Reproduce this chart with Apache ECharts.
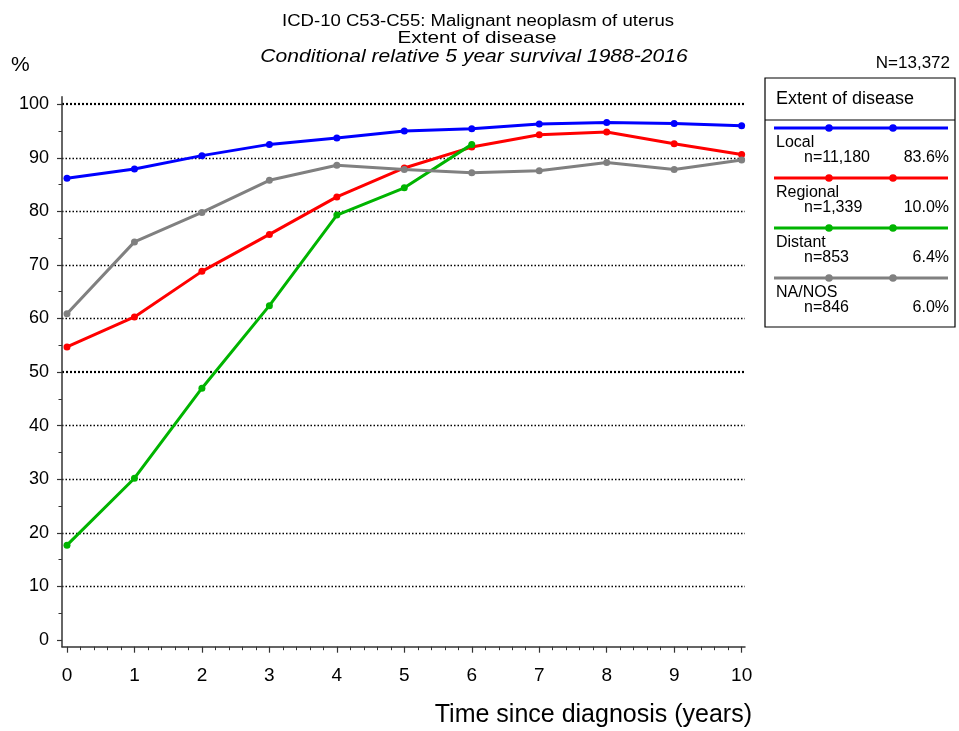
<!DOCTYPE html>
<html>
<head>
<meta charset="utf-8">
<script src="https://cdn.jsdelivr.net/npm/echarts@6/dist/echarts.min.js"></script>
<style>
html,body{margin:0;padding:0;background:#fff;}
#chart{width:959px;height:731px;}
</style>
</head>
<body>
<div id="chart"></div>
<script>
// ---- Data ----
const years = [0, 1, 2, 3, 4, 5, 6, 7, 8, 9, 10];
const seriesNames = ['Local', 'Regional', 'Distant', 'NA/NOS'];
const seriesCounts = ['n=11,180', 'n=1,339', 'n=853', 'n=846'];
const seriesPercents = ['83.6%', '10.0%', '6.4%', '6.0%'];
const localValues = [86.2, 87.9, 90.4, 92.5, 93.7, 95.0, 95.4, 96.3, 96.6, 96.4, 96.0];
const regionalValues = [54.7, 60.3, 68.8, 75.7, 82.7, 88.1, 92.0, 94.3, 94.8, 92.6, 90.6];
const distantValues = [17.7, 30.2, 47.0, 62.4, 79.3, 84.4, 92.5];
const naValues = [60.9, 74.3, 79.8, 85.8, 88.6, 87.8, 87.2, 87.6, 89.1, 87.8, 89.6];
const xTickLabels = [0, 1, 2, 3, 4, 5, 6, 7, 8, 9, 10];
const yTickLabels = [0, 10, 20, 30, 40, 50, 60, 70, 80, 90, 100];
const yGridValues = [10, 20, 30, 40, 60, 70, 80, 90];
const yBoldGridValues = [50, 100];

const titleLine1 = 'ICD-10 C53-C55: Malignant neoplasm of uterus';
const titleLine2 = 'Extent of disease';
const titleLine3 = 'Conditional relative 5 year survival 1988-2016';
const totalN = 'N=13,372';
const legendTitle = 'Extent of disease';
const xAxisTitle = 'Time since diagnosis (years)';
const yAxisTitle = '%';

const colors = ['#0000ff', '#ff0000', '#00b400', '#808080'];
const allValues = [localValues, regionalValues, distantValues, naValues];

// minor ticks
const xMinor = [];
for (let i = 0; i < 10; i++) for (let j = 1; j < 5; j++) xMinor.push(+(i + j * 0.2).toFixed(2));
const yMinor = [];
for (let v = 5; v < 100; v += 10) yMinor.push(v);

const chart = echarts.init(document.getElementById('chart'), null, {renderer: 'canvas'});

const FONT = 'Liberation Sans';
const XMIN = -0.074, XMAX = 10.05, YMIN = -1.25, YMAX = 101.4;

function txt(x, y, text, size, extra, styleExtra) {
  return Object.assign({
    type: 'text', x: x, y: y,
    style: Object.assign({text: text, fontSize: size, fontFamily: FONT, fill: '#000', verticalAlign: 'middle', align: 'left'}, styleExtra || {})
  }, extra || {});
}

function xAx(extra) {
  return Object.assign({
    type: 'value', min: XMIN, max: XMAX, position: 'bottom', gridIndex: 0,
    axisLine: {show: false, onZero: false}, axisTick: {show: false}, axisLabel: {show: false},
    splitLine: {show: false}
  }, extra);
}
function yAx(extra) {
  return Object.assign({
    type: 'value', min: YMIN, max: YMAX, position: 'left', gridIndex: 0,
    axisLine: {show: false, onZero: false}, axisTick: {show: false}, axisLabel: {show: false},
    splitLine: {show: false}
  }, extra);
}

const series = seriesNames.map((name, k) => ({
  name: name,
  type: 'line',
  xAxisIndex: 0, yAxisIndex: 0,
  data: allValues[k].map((v, i) => [years[i], v]),
  symbol: 'circle',
  symbolSize: 7,
  showSymbol: true,
  lineStyle: {color: colors[k], width: 3},
  itemStyle: {color: colors[k]},
  z: 10 + k,
  animation: false
}));

// legend graphic
const LX0 = 765, LX1 = 955, LY0 = 78, LY1 = 327;
const legendEls = [
  {type: 'rect', shape: {x: LX0, y: LY0, width: LX1 - LX0, height: LY1 - LY0},
   style: {fill: '#fff', stroke: '#000', lineWidth: 1.2}},
  {type: 'line', shape: {x1: LX0, y1: 120, x2: LX1, y2: 120}, style: {stroke: '#000', lineWidth: 1}},
  txt(776, 99, legendTitle, 18)
];
seriesNames.forEach((name, k) => {
  const y = 128 + k * 50;
  legendEls.push({type: 'line', shape: {x1: 774, y1: y, x2: 948, y2: y}, style: {stroke: colors[k], lineWidth: 3}});
  legendEls.push({type: 'circle', shape: {cx: 829, cy: y, r: 3.8}, style: {fill: colors[k]}});
  legendEls.push({type: 'circle', shape: {cx: 893, cy: y, r: 3.8}, style: {fill: colors[k]}});
  legendEls.push(txt(776, y + 15, name, 16));
  legendEls.push(txt(804, y + 29.5, seriesCounts[k], 16));
  legendEls.push(txt(949, y + 29.5, seriesPercents[k], 16, null, {align: 'right'}));
});

const option = {
  backgroundColor: '#fff',
  animation: false,
  textStyle: {fontFamily: FONT},
  grid: {left: 62, top: 96.7, width: 683, height: 550, containLabel: false},
  xAxis: [
    xAx({
      axisLine: {show: true, onZero: false, lineStyle: {color: '#333', width: 1.5}},
      axisTick: {show: true, customValues: xTickLabels, length: 6, lineStyle: {color: '#333', width: 1.2}},
      axisLabel: {show: true, customValues: xTickLabels, fontSize: 19, color: '#000', margin: 20, fontFamily: FONT}
    }),
    xAx({
      axisTick: {show: true, customValues: xMinor, length: 3.5, lineStyle: {color: '#333', width: 1}}
    })
  ],
  yAxis: [
    yAx({
      axisLine: {show: true, onZero: false, lineStyle: {color: '#333', width: 1.5}},
      axisTick: {show: true, customValues: yTickLabels, length: 5, lineStyle: {color: '#333', width: 1.2}},
      axisLabel: {show: true, customValues: yTickLabels, fontSize: 18, color: '#000', margin: 13, fontFamily: FONT}
    }),
    yAx({
      axisTick: {show: true, customValues: yMinor, length: 3.5, lineStyle: {color: '#333', width: 1}}
    }),
    yAx({
      axisTick: {show: false, customValues: yGridValues},
      splitLine: {show: true, lineStyle: {color: '#000', width: 1.3, type: [1.5, 2]}}
    }),
    yAx({
      axisTick: {show: false, customValues: yBoldGridValues},
      splitLine: {show: true, lineStyle: {color: '#000', width: 2.2, type: [2, 2]}}
    })
  ],
  graphic: [
    txt(478, 22, titleLine1, 16, {scaleX: 1.16}, {align: 'center'}),
    txt(477, 38.5, titleLine2, 17, {scaleX: 1.22}, {align: 'center'}),
    txt(474, 56.5, titleLine3, 18, {scaleX: 1.17}, {align: 'center', fontStyle: 'italic'}),
    txt(11, 65, yAxisTitle, 21),
    txt(950, 63, totalN, 17, null, {align: 'right'}),
    txt(752, 715, xAxisTitle, 25, null, {align: 'right'}),
    {type: 'group', children: legendEls}
  ],
  series: series
};
chart.setOption(option);
</script>
</body>
</html>
